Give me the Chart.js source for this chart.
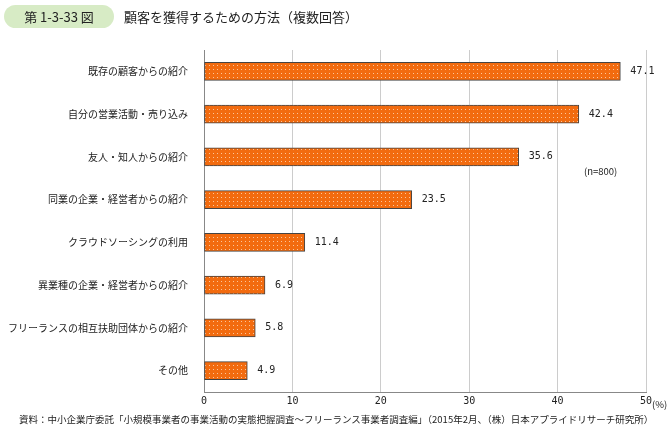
<!DOCTYPE html>
<html><head><meta charset="utf-8">
<script src="https://cdn.jsdelivr.net/npm/chart.js@4/dist/chart.umd.min.js"></script>
<style>
body{margin:0;width:668px;height:431px;position:relative;background:#fff;font-family:"Noto Sans CJK JP",sans-serif;color:#222}
#c{position:absolute;left:0;top:0}
.tag{position:absolute;left:4px;top:5px;width:110px;height:23px;background:#d7ebc5;border-radius:12px;font-size:13px;line-height:23px;text-align:center}
.ttl{position:absolute;left:124px;top:5px;font-size:13px;line-height:23px}
.t{position:absolute;font-size:9.5px}
</style></head><body>
<canvas id="c" width="668" height="431"></canvas>
<div class="tag">第 1-3-33 図</div>
<div class="ttl">顧客を獲得するための方法（複数回答）</div>
<div class="t" style="left:584px;top:164px">(n=800)</div>
<div class="t" style="left:652px;top:397px">(%)</div>
<div class="t" style="left:19px;top:412px">資料：中小企業庁委託「小規模事業者の事業活動の実態把握調査～フリーランス事業者調査編」（2015年2月、（株）日本アプライドリサーチ研究所）</div>
<script>
const labels = ["既存の顧客からの紹介","自分の営業活動・売り込み","友人・知人からの紹介","同業の企業・経営者からの紹介","クラウドソーシングの利用","異業種の企業・経営者からの紹介","フリーランスの相互扶助団体からの紹介","その他"];
const values = [47.1,42.4,35.6,23.5,11.4,6.9,5.8,4.9];

const pc = document.createElement("canvas");
pc.width = 4; pc.height = 4;
const px = pc.getContext("2d");
px.fillStyle = "#f26b0f"; px.fillRect(0,0,4,4);
px.fillStyle = "#fbc59a"; px.fillRect(1,1,1,1);
const pattern = px.createPattern(pc,"repeat");

const valueLabels = {
  id:"valueLabels",
  afterDatasetsDraw(chart){
    const ctx = chart.ctx;
    ctx.save();
    ctx.font = "10px 'DejaVu Sans Mono'";
    ctx.fillStyle = "#222";
    ctx.textBaseline = "middle";
    chart.getDatasetMeta(0).data.forEach((b,i)=>{
      ctx.fillText(values[i].toFixed(1), b.x+10, b.y);
    });
    ctx.restore();
  }
};

new Chart(document.getElementById("c"),{
  type:"bar",
  data:{labels:labels,datasets:[{data:values,backgroundColor:pattern,borderColor:"#444",borderWidth:1,borderSkipped:false,barThickness:18}]},
  options:{
    indexAxis:"y",responsive:false,animation:false,
    layout:{padding:{top:50,right:22,bottom:19,left:0}},
    plugins:{legend:{display:false},tooltip:{enabled:false}},
    scales:{
      x:{min:0,max:50,ticks:{stepSize:10,color:"#222",font:{size:10,family:"DejaVu Sans Mono"}},
         grid:{color:"#ccc",drawTicks:false},border:{color:"#888"},afterFit:s=>{s.height=20}},
      y:{ticks:{color:"#222",font:{size:10,family:"Noto Sans CJK JP"},padding:8},
         grid:{display:false},border:{color:"#888"},afterFit:s=>{s.width=204}}
    }
  },
  plugins:[valueLabels]
});
</script>
</body></html>
